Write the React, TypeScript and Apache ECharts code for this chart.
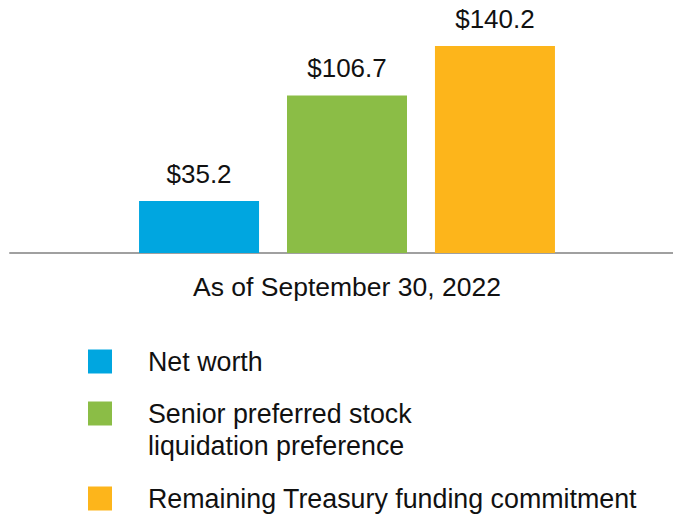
import React, { useEffect, useRef } from "react";
import * as echarts from "echarts";

const categories = ["As of September 30, 2022"];
const seriesNames = [
  "Net worth",
  "Senior preferred stock\nliquidation preference",
  "Remaining Treasury funding commitment",
];
const seriesValues = [35.2, 106.7, 140.2];
const colors = ["#00A6E0", "#8BBD46", "#FDB51B"];

const FONT = "'Liberation Sans', Arial, sans-serif";

export default function App() {
  const ref = useRef<HTMLDivElement>(null);
  useEffect(() => {
    if (!ref.current) return;
    const chart = echarts.init(ref.current, undefined, { renderer: "svg" });
    const legendTops = [345.5, 365.5, 482.5];
    const legends = seriesNames.map((name, i) => ({
      data: [name],
      orient: "vertical",
      left: 88,
      top: legendTops[i],
      padding: 0,
      itemWidth: 24,
      itemHeight: 24,
      icon: "rect",
      selectedMode: false,
      formatter: (n: string) => (n.indexOf("\n") >= 0 ? "\n" + n : n),
      textStyle: {
        fontFamily: FONT,
        fontSize: 26.8,
        color: "#111",
        lineHeight: 32,
        padding: [0, 0, 0, 31],
      },
    }));
    chart.setOption({
      animation: false,
      grid: [
        { left: 21, right: 0, top: 31.5, bottom: 515 - 253 },
        { left: 10, right: 0, top: 31.5, bottom: 515 - 253 },
      ],
      legend: legends,
      xAxis: [
        {
          type: "category",
          gridIndex: 0,
          data: categories,
          axisLine: { show: false },
          axisTick: { show: false },
          axisLabel: {
            fontFamily: FONT,
            fontSize: 26.5,
            color: "#111",
            margin: 20,
          },
        },
        {
          type: "category",
          gridIndex: 1,
          data: categories,
          axisLine: { show: true, lineStyle: { color: "#A0A0A0", width: 2 } },
          axisTick: { show: false },
          axisLabel: { show: false },
        },
      ],
      yAxis: [
        { type: "value", gridIndex: 0, min: 0, max: 150, show: false, splitLine: { show: false } },
        { type: "value", gridIndex: 1, min: 0, max: 150, show: false, splitLine: { show: false } },
      ],
      series: seriesNames.map((name, i) => ({
        type: "bar",
        name,
        data: [seriesValues[i]],
        barWidth: 120,
        barGap: "23.3%",
        itemStyle: { color: colors[i] },
        label: {
          show: true,
          position: "top",
          distance: 14,
          formatter: (p: any) => "$" + p.value.toFixed(1),
          fontFamily: FONT,
          fontSize: 26,
          color: "#111",
        },
      })),
    });
    return () => chart.dispose();
  }, []);
  return <div ref={ref} style={{ width: 673, height: 515, position: "absolute", left: 0, top: 0 }} />;
}
